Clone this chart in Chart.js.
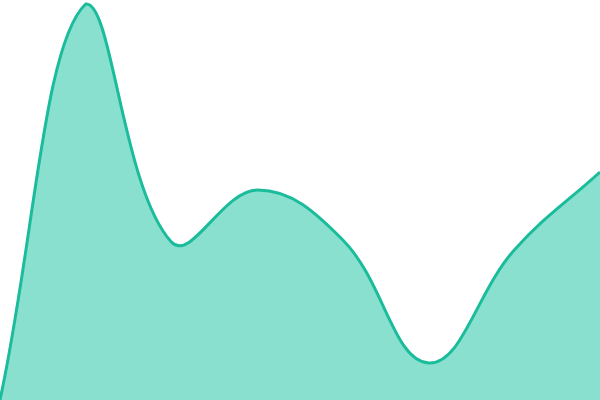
<!DOCTYPE html>
<html>
<head>
<meta charset="utf-8">
<script src="https://cdn.jsdelivr.net/npm/chart.js@4"></script>
<style>
  html, body { margin: 0; padding: 0; background: #fff; }
  #wrap { width: 600px; height: 400px; }
</style>
</head>
<body>
<div id="wrap"><canvas id="area-chart"></canvas></div>
<script>
const labels = ['1', '2', '3', '4', '5', '6', '7', '8'];
const values = [0, 396, 158, 210, 160, 37, 150, 228];

document.addEventListener("DOMContentLoaded", mainJs);

function mainJs(){
    const ctx = document.getElementById('area-chart');

    new Chart(ctx, {
        type: 'line',
        data: {
            labels: labels,
            datasets: [{
                data: values,
                borderColor: '#1abc9c',
                backgroundColor: '#8ae0cf',
                borderWidth: 3,
                fill: 'origin',
                tension: 0.4,
                pointRadius: 0
            }]
        },
        options: {
            responsive: true,
            maintainAspectRatio: false,
            animation: false,
            layout: { padding: 0 },
            plugins: {
                legend: { display: false },
                tooltip: { enabled: false }
            },
            scales: {
                x: { display: false, offset: false },
                y: { display: false, min: 0, max: 400 }
            }
        }
    });
}
</script>
</body>
</html>
